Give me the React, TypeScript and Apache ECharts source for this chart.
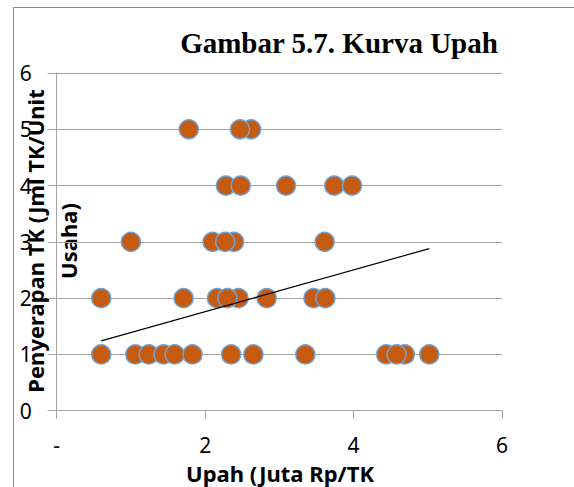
import React, { useEffect, useRef } from "react";
import * as echarts from "echarts";

// Upah (Juta Rp/TK) and Penyerapan TK (Jml TK/Unit Usaha) pairs
const upah: number[] = [
  0.6, 1.06, 1.24, 1.44, 1.59, 1.83, 2.35, 2.65, 3.35, 4.44, 4.69, 4.58, 5.02,
  0.6, 1.71, 2.16, 2.45, 2.3, 2.83, 3.46, 3.62,
  1.0, 2.1, 2.39, 2.27, 3.61,
  2.28, 2.48, 3.09, 3.74, 3.98,
  1.78, 2.62, 2.47,
];
const tenagaKerja: number[] = [
  1, 1, 1, 1, 1, 1, 1, 1, 1, 1, 1, 1, 1,
  2, 2, 2, 2, 2, 2, 2, 2,
  3, 3, 3, 3, 3,
  4, 4, 4, 4, 4,
  5, 5, 5,
];
// linear trend line end points
const trendX: number[] = [0.6, 5.02];
const trendY: number[] = [1.24, 2.88];

const title = "Gambar 5.7. Kurva Upah";
const xTitle = "Upah (Juta Rp/TK";
const yTitle1 = "Penyerapan TK (Jml TK/Unit";
const yTitle2 = "Usaha)";

const GRID = "#a3a3a3";
const SANS = "'Noto Sans', 'DejaVu Sans', sans-serif";

export default function App() {
  const ref = useRef<HTMLDivElement>(null);
  useEffect(() => {
    if (!ref.current) return;
    const chart = echarts.init(ref.current, undefined, { renderer: "svg" });
    const points = upah.map((x, i) => [x, tenagaKerja[i]]);
    const trend = trendX.map((x, i) => [x, trendY[i]]);
    chart.setOption({
      animation: false,
      backgroundColor: "#ffffff",
      grid: { left: 56.7, right: 72, top: 73, bottom: 76.3, containLabel: false },
      xAxis: {
        type: "value",
        min: 0,
        max: 6,
        interval: 2,
        axisLine: { show: true, onZero: false, lineStyle: { color: GRID, width: 1 } },
        axisTick: { show: true, length: 8, lineStyle: { color: GRID, width: 1 } },
        splitLine: { show: false },
        axisLabel: {
          margin: 24,
          color: "#000",
          fontFamily: SANS,
          fontSize: 21,
          formatter: (v: number) => (v === 0 ? "-" : String(v)),
        },
      },
      yAxis: {
        type: "value",
        min: 0,
        max: 6,
        interval: 1,
        axisLine: { show: true, lineStyle: { color: GRID, width: 1 } },
        axisTick: { show: true, length: 9, lineStyle: { color: GRID, width: 1 } },
        splitLine: { show: true, lineStyle: { color: GRID, width: 1 } },
        axisLabel: {
          margin: 25,
          color: "#000",
          fontFamily: SANS,
          fontSize: 21,
        },
      },
      series: [
        {
          type: "line",
          data: trend,
          symbol: "none",
          lineStyle: { color: "#000", width: 1.2 },
          z: 3,
        },
        {
          type: "scatter",
          data: points,
          symbol: "circle",
          symbolSize: 19,
          itemStyle: { color: "#c55a11", borderColor: "#6fa3d8", borderWidth: 1.5, opacity: 1 },
          z: 2,
        },
      ],
      graphic: [
        {
          type: "rect",
          shape: { x: 13.5, y: 7.5, width: 700, height: 700 },
          style: { fill: "none", stroke: "#8a8a8a", lineWidth: 1 },
          silent: true,
        },
        {
          type: "text",
          x: 339,
          y: 43,
          style: {
            text: title,
            fontFamily: "'Liberation Serif', 'Times New Roman', serif",
            fontWeight: "bold",
            fontSize: 29,
            fill: "#000",
            align: "center",
            verticalAlign: "middle",
          },
        },
        {
          type: "text",
          x: 280,
          y: 473,
          style: {
            text: xTitle,
            fontFamily: SANS,
            fontWeight: "bold",
            fontSize: 22,
            fill: "#000",
            align: "center",
            verticalAlign: "middle",
          },
        },
        {
          type: "text",
          x: 35,
          y: 241,
          rotation: Math.PI / 2,
          style: {
            text: yTitle1,
            fontFamily: SANS,
            fontWeight: "bold",
            fontSize: 22,
            fill: "#000",
            align: "center",
            verticalAlign: "middle",
          },
        },
        {
          type: "text",
          x: 68,
          y: 241,
          rotation: Math.PI / 2,
          style: {
            text: yTitle2,
            fontFamily: SANS,
            fontWeight: "bold",
            fontSize: 22,
            fill: "#000",
            align: "center",
            verticalAlign: "middle",
          },
        },
      ],
    });
    return () => chart.dispose();
  }, []);
  return (
    <div
      ref={ref}
      style={{ position: "fixed", left: 0, top: 0, width: 574, height: 487, background: "#fff" }}
    />
  );
}
